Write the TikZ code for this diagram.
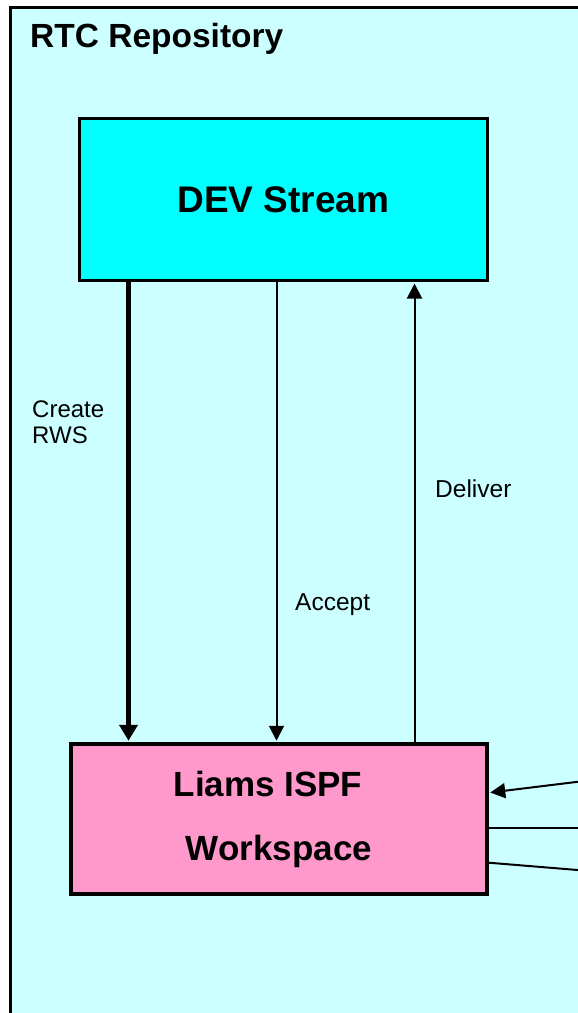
\documentclass[tikz,border=0pt]{standalone}
\usepackage{fontspec}
\setmainfont{Liberation Sans}
\usepackage{tikz}
\usetikzlibrary{calc,positioning,arrows.meta}
\definecolor{repobg}{HTML}{CCFFFF}
\definecolor{streamfill}{HTML}{00FFFF}
\definecolor{wsfill}{HTML}{FF99CC}
\tikzstyle{repo}      = [draw=black, line width=3pt, fill=repobg]
\tikzstyle{stream}    = [rectangle, draw=black, line width=3pt, fill=streamfill, minimum width=407.5pt, minimum height=162pt, inner sep=0pt, text centered, font=\fontsize{37}{42}\selectfont\bfseries]
\tikzstyle{wspace}    = [rectangle, draw=black, line width=3.5pt, fill=wsfill, minimum width=416pt, minimum height=150pt, inner sep=0pt, align=center, font=\fontsize{35}{64}\selectfont\bfseries]
\tikzstyle{lbl}       = [inner sep=0pt, anchor=base west, align=left, font=\fontsize{24.5}{26}\selectfont]
\tikzstyle{arrow}     = [line width=2pt, -{Triangle[length=15pt,width=15pt]}, shorten >=1.5pt]
\tikzstyle{fatarrow}  = [line width=5pt, -{Triangle[length=16pt,width=18pt]}, shorten >=1.5pt]

\begin{document}
\begin{tikzpicture}[x=1pt,y=-1pt]
        \useasboundingbox (0,0) rectangle (578,1013);
        \clip (0,0) rectangle (578,1013);
        \fill[white] (0,0) rectangle (578,1013);

        % repository frame
        \draw[repo] (10.5,7) rectangle (610,1040);
        \node[inner sep=0pt, anchor=base west, font=\fontsize{33.5}{38}\selectfont\bfseries] (title) at (30,47) {RTC Repository};

        % stream and workspace
        \node[stream] (dev) at (283.25,199.5) {DEV Stream};
        \node[wspace] (ws) at (279,819) {Liams ISPF\hspace*{22pt}\\Workspace};

        % columns of the connectors
        \coordinate (xcreate) at (128.5,0);
        \coordinate (xaccept) at (276.5,0);
        \coordinate (xdeliver) at (414.5,0);

        \draw[fatarrow] (dev.south -| xcreate) -- (ws.north -| xcreate);
        \draw[arrow] (dev.south -| xaccept) -- (ws.north -| xaccept);
        \draw[arrow] (ws.north -| xdeliver) -- (dev.south -| xdeliver);

        \node[lbl, font=\fontsize{24}{26}\selectfont] (create) at (32,443) {Create\\RWS};
        \node[lbl] (accept) at (295,610) {Accept};
        \node[lbl] (deliver) at (435,497) {Deliver};

        % lines from the right
        \coordinate (r1) at (580,781.5);
        \coordinate (r2) at (580,828.3);
        \coordinate (r3) at (580,870.2);
        \coordinate (t1) at (0,792.7);
        \coordinate (t3) at (0,862.7);
        \draw[arrow] (r1) -- (ws.east |- t1);
        \draw[line width=2pt] (ws.east |- r2) -- (r2);
        \draw[line width=2pt] (ws.east |- t3) -- (r3);
\end{tikzpicture}
\end{document}
